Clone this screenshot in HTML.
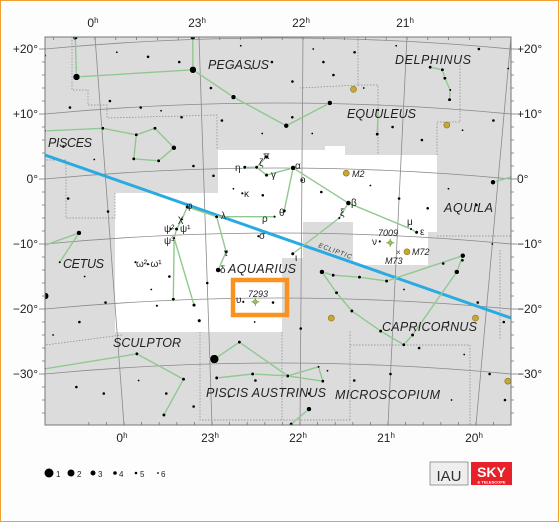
<!DOCTYPE html>
<html><head><meta charset="utf-8">
<style>
html,body{margin:0;padding:0;background:#fff}
svg{display:block}
text{font-family:"Liberation Sans",sans-serif}
.cl{font-style:italic;font-size:12.5px;fill:#222}
.ax{font-size:12px;fill:#222}
.gk{font-size:10px;fill:#222}
</style></head>
<body>
<svg id="chart" width="559" height="522" viewBox="0 0 559 522" xmlns="http://www.w3.org/2000/svg">
<rect x="0.5" y="0.5" width="558" height="521" fill="#fdfdfd" stroke="#f0a030" stroke-width="1"/>
<defs><clipPath id="mapclip"><rect x="45" y="37" width="466" height="388"/></clipPath></defs>
<g clip-path="url(#mapclip)">
<rect x="45" y="37" width="466" height="388" fill="#dcdcdc"/>
<polygon fill="#ffffff" points="218,150 325,150 325,146 345,146 345,155 437,155 437,232 428,232 428,265 353,265 353,222 303,222 303,258 282,258 282,332 115,332 115,193 218,193"/>
<path fill="none" stroke="#888" stroke-width="0.7" stroke-dasharray="1.5,1.5" d="M72,37 L72,90 L88,90 L88,105 L107,105 L107,118 L217,115 L217,150 M115,193 L115,218 L66,218 L66,160 L45,160 M358,37 L358,85 L378,85 L378,155 M358,85 L300,88 M437,155 L437,122 L460,122 L460,60 M437,236 L511,236 M282,332 L282,420 M200,332 L200,420 L350,420 M350,420 L350,345 L470,345 M350,345 L350,330 M470,345 L470,425 M122,335 L45,345 M500,250 L500,340"/>
<g id="grid"></g>
<line id="ecl" x1="45" y1="155" x2="511" y2="318" stroke="#29abe2" stroke-width="3"/>
<g id="lines"></g>
<g id="stars"></g>
</g>
<rect x="45" y="37" width="466" height="388" fill="none" stroke="#777" stroke-width="1"/>
<g id="ticks"></g>
<g id="axlabels"></g>

<g>
<text class="cl" x="208" y="69" textLength="61" lengthAdjust="spacing">PEGASUS</text>
<text class="cl" x="395" y="64" textLength="76" lengthAdjust="spacing">DELPHINUS</text>
<text class="cl" x="347" y="118" textLength="69" lengthAdjust="spacing">EQUULEUS</text>
<text class="cl" x="48" y="147" textLength="44" lengthAdjust="spacing">PISCES</text>
<text class="cl" x="444" y="212" textLength="49" lengthAdjust="spacing">AQUILA</text>
<text class="cl" x="63" y="268" textLength="41" lengthAdjust="spacing">CETUS</text>
<text class="cl" x="228" y="273" textLength="68" lengthAdjust="spacing">AQUARIUS</text>
<text class="cl" x="382" y="331" textLength="95" lengthAdjust="spacing">CAPRICORNUS</text>
<text class="cl" x="113" y="347" textLength="68" lengthAdjust="spacing">SCULPTOR</text>
<text class="cl" x="206" y="397" textLength="120" lengthAdjust="spacing">PISCIS AUSTRINUS</text>
<text class="cl" x="335" y="399" textLength="105" lengthAdjust="spacing">MICROSCOPIUM</text>
<text x="318" y="247" font-size="6.5" font-style="italic" fill="#333" letter-spacing="0.8" transform="rotate(20 318 247)">ECLIPTIC</text>
</g>
<g>
<text class="gk" x="235" y="171">η</text>
<text class="gk" x="259" y="166">ζ</text>
<text class="gk" x="263" y="159">π</text>
<text class="gk" x="271" y="178">γ</text>
<text class="gk" x="295" y="169">α</text>
<text class="gk" x="300" y="183">o</text>
<text class="gk" x="351" y="206">β</text>
<text class="gk" x="407" y="225">μ</text>
<text class="gk" x="420" y="235">ε</text>
<text class="gk" x="340" y="216">ξ</text>
<text class="gk" x="279" y="216">θ</text>
<text class="gk" x="262" y="222">ρ</text>
<text class="gk" x="221" y="219">λ</text>
<text class="gk" x="259" y="239">σ</text>
<text class="gk" x="244" y="197">κ</text>
<text class="gk" x="186" y="209">φ</text>
<text class="gk" x="178" y="222">χ</text>
<text class="gk" x="164" y="232">ψ²</text>
<text class="gk" x="180" y="232">ψ¹</text>
<text class="gk" x="164" y="244">ψ³</text>
<text class="gk" x="224" y="256">τ</text>
<text class="gk" x="220" y="273">δ</text>
<text class="gk" x="136" y="267">ω²·ω¹</text>
<text class="gk" x="295" y="261">ι</text>
<text class="gk" x="236" y="303">υ</text>
<text class="gk" x="372" y="245">ν</text>
<text x="248" y="297" font-size="9" font-style="italic" fill="#222">7293</text>
<text x="378" y="236" font-size="9" font-style="italic" fill="#222">7009</text>
<text x="352" y="177" font-size="9" font-style="italic" fill="#222">M2</text>
<text x="412" y="255" font-size="9" font-style="italic" fill="#222">M72</text>
<text x="385" y="264" font-size="9" font-style="italic" fill="#222">M73</text>
<text x="396" y="255" font-size="8" fill="#444">×</text>
</g>
<rect x="233" y="280" width="54" height="35" fill="none" stroke="#f7931e" stroke-width="4.5"/>

<g>
<circle cx="49" cy="473" r="4.5" fill="#000"/><text x="56" y="477" font-size="8" fill="#222">1</text>
<circle cx="71" cy="473" r="3.5" fill="#000"/><text x="77" y="477" font-size="8" fill="#222">2</text>
<circle cx="93" cy="473" r="2.5" fill="#000"/><text x="98" y="477" font-size="8" fill="#222">3</text>
<circle cx="115" cy="473" r="1.8" fill="#000"/><text x="119" y="477" font-size="8" fill="#222">4</text>
<circle cx="136" cy="473" r="1.3" fill="#000"/><text x="140" y="477" font-size="8" fill="#222">5</text>
<circle cx="158" cy="473" r="0.9" fill="#000"/><text x="161" y="477" font-size="8" fill="#222">6</text>
</g>
<g>
<rect x="430" y="462" width="38" height="23" fill="#eee" stroke="#999" stroke-width="1"/>
<text x="449" y="481" text-anchor="middle" font-family="Liberation Serif" font-size="15" fill="#333">IAU</text>
</g>
<g>
<rect x="471" y="462" width="41" height="23" fill="#e8202a"/>
<text x="491.5" y="477" text-anchor="middle" font-size="14" font-weight="bold" fill="#fff">SKY</text>
<text x="491.5" y="483.5" text-anchor="middle" font-size="4" font-weight="bold" fill="#fff">&amp; TELESCOPE</text>
</g>
</svg>
<script>
// Named stars: hours east of 0h (0h=0, 23h=1, 22h=2 ...), declination (deg), magnitude
const starH   = [-0.21,0.93,1.32,2.27,1.84,-0.19,0.94, 0.01,0.34,0.53,0.71,0.55,0.30,-0.57, 3.24,3.36,3.39,3.45,3.45, 2.75,2.75,
  1.42,1.54,1.64,1.64,1.91,2.00,2.48,3.14,3.20,2.39,1.82,1.72,1.12,1.55,1.39,0.82,0.76,0.70,0.64,0.67,1.21,1.12,0.38,0.25,1.91,0.63,0.85,0.45,0.90,1.38,2.82,
  2.22,2.34,2.62,2.91,3.70,2.38,2.55,2.87,3.13,3.22, 1.05,1.33,1.07,1.47,1.86,2.25,2.20, 2.10,1.90, -0.83,0.20,0.70,0.46, -0.74,-0.32,-0.69,-0.55, 3.95,4.13, 3.65];
const starDec = [15.7,16.8,12.6,11.7,8.2,21.8,21.8, 7.8,6.8,7.8,4.8,2.8,3.1,7.4, 17.2,16.8,15.5,13.7,12.2, 6.9,10.6,
  1.8,1.8,3.4,0.6,1.7,-0.2,-3.7,-7.7,-8.2,-6.0,-4.9,-5.8,-5.8,-8.8,-2.2,-4.3,-6.2,-7.7,-7.7,-9.1,-11.2,-14.0,-13.1,-12.8,-11.5,-18.5,-19.4,-19.5,-21.8,-18.9,-9.6,
  -14.3,-14.8,-15.1,-15.7,-11.8,-17.5,-20.3,-23.4,-25.5,-24.0, -27.7,-25.1,-30.6,-30.0,-30.3,-31.1,-28.9, -35.4,-37.7, -29.2,-26.9,-30.8,-36.3, -18.0,-8.3,-10.2,-12.8, -0.5,0.3, -14.3];
const starMag = [2,2,3,3,3,3,3, 4,4,4,3,4,4,5, 4,4,4,5,4, 4,5,
  4,4,4,4,3,5,3,5,4,5,4,5,4,5,5,4,5,4,5,5,4,3,5,5,4,4,4,5,4,5,5,
  3,4,4,4,3,4,4,4,4,4, 1,4,4,4,4,4,5, 3,4, 5,4,4,4, 2,3,5,5, 3,5, 3];
const figFrom = [5,0,1,1,2,4, 13,7,8,12,11,10,9, 14,15,16,17, 19, 21,22,22,24,25,27,28,25,32,33,36,37,38,40,40,33,41,27,30, 52,53,54,55,52,57,58,59,60,61,81, 62,63,64,65,66,67,68, 69, 71,72,73, 77,76, 79];
const figTo   = [0,1,6,2,4,3, 7,8,12,11,10,9,8, 15,16,17,18, 20, 22,23,24,25,27,28,29,31,33,36,37,38,40,46,47,41,42,30,45, 53,54,55,56,57,58,59,60,61,81,56, 63,66,65,66,67,68,66, 70, 72,73,74, 76,78, 80];
const fieldH   = [-0.5,0.2,0.5,0.8,1.4,1.7,2.1,2.2,2.5,2.9,3.7,4.0,4.2,3.9,3.6,3.2,2.9,2.6,2.3,1.9,1.5,1.1,0.4,0.6,0.8,1.2,1.6,1.9,2.1,0.1,-0.3,-0.6,-0.4,-0.1,0.9,1.1,1.3,1.6,2.2,2.7,3.0,3.3,3.5,3.8,4.2,4.0,3.7,3.5,3.1,3.9,4.2,3.6,3.3,3.0,2.6,2.3,2.1,1.5,1.2,0.8,0.5,0.2,-0.2,-0.5,-0.7,-0.4,-0.1,-0.3,0.0,-0.4,0.4,0.6,1.0,1.5,1.7,2.0,3.8,4.1,4.3,3.7];
const fieldDec = [19,19.5,18.8,18,20.5,18,20,18,19.5,20.5,20,17,14,9,7.5,6,8,14,16,15,17,14,11,10.5,9.5,9,7,9.5,7,12,11,13,5,3,2,0.5,-1.5,-2.5,-2,-1,-3,-4.5,-1.5,-4,-6,-10,-12.5,-13,-17,-19,-22,-22,-26,-30,-31,-29.5,-33,-31,-33.5,-35,-33,-31,-33,-32,-24,-22,-19,-15,-5,-3,-17,-15,-16,-22,-19,-23,-27,-30,-34,-34];
const fieldMag = [5,6,5,5,6,5,6,5,5,6,5,6,5,5,6,5,5,6,5,5,6,5,5,6,5,5,6,5,6,5,5,6,5,6,5,5,6,5,5,6,5,5,6,5,5,6,5,5,6,5,5,6,5,5,5,6,5,5,6,5,5,6,5,5,6,5,5,6,5,5,6,5,5,6,5,5,6,5,5,6];
const clH = [2.45,2.50,3.44,2.33,3.89,4.31,3.11];
const clDec = [0.9,13.8,8.3,-21.4,-21.4,-31.1,-11.2];
const pnH = [1.51,2.93];
const pnDec = [-18.9,-9.8];
const raTicks = ["0","23","22","21","20"];
const decTicks = [20,10,0,-10,-20,-30];

const NS="http://www.w3.org/2000/svg";
function yOf(dec){return 179-6.5*dec;}
function xOf(h,dec){const y=yOf(dec);const t=(y-37)/388;return 95+29*t+(104-16*t)*h;}
function mk(tag,attrs,parent){const e=document.createElementNS(NS,tag);for(const k in attrs)e.setAttribute(k,attrs[k]);parent.appendChild(e);return e;}
const rOf=[0,4.5,3.5,2.5,1.8,1.3,0.9];

const grid=document.getElementById('grid');
for(let i=-1;i<=5;i++){
  const l=mk('line',{x1:95+104*i,y1:37,x2:124+88*i,y2:425,stroke:'#8a8a8a','stroke-width':0.8},grid);
  
  
}
for(let d=30;d>=-40;d-=10){
  const ye=yOf(d);const p=mk('path',{d:'M45,'+ye+' Q278,'+(ye-22)+' 511,'+ye,fill:'none',stroke:'#8a8a8a','stroke-width':0.8},grid);
  
  
}
const lines=document.getElementById('lines');
for(let i=0;i<figFrom.length;i++){
  const a=figFrom[i],b=figTo[i];
  const l=mk('line',{x1:xOf(starH[a],starDec[a]),y1:yOf(starDec[a]),x2:xOf(starH[b],starDec[b]),y2:yOf(starDec[b]),stroke:'#8fc98f','stroke-width':1.4},lines);
  
  
}
const stars=document.getElementById('stars');
for(let i=0;i<fieldH.length;i++){
  const c=mk('circle',{cx:xOf(fieldH[i],fieldDec[i]),cy:yOf(fieldDec[i]),r:rOf[fieldMag[i]],fill:'#000'},stars);
  
  
}
for(let i=0;i<starH.length;i++){
  const c=mk('circle',{cx:xOf(starH[i],starDec[i]),cy:yOf(starDec[i]),r:rOf[starMag[i]],fill:'#000',stroke:'#fff','stroke-width':0.5},stars);
  
  
}
for(let i=0;i<clH.length;i++){
  const c=mk('circle',{cx:xOf(clH[i],clDec[i]),cy:yOf(clDec[i]),r:3,fill:'#c8a830',stroke:'#8a7020','stroke-width':0.6},stars);
  
  
}
for(let i=0;i<pnH.length;i++){
  const x=xOf(pnH[i],pnDec[i]),y=yOf(pnDec[i]);
  const c=mk('path',{d:'M'+(x-4)+','+y+' H'+(x+4)+' M'+x+','+(y-4)+' V'+(y+4),stroke:'#7aa040','stroke-width':1},stars);
  
  
  const c2=mk('circle',{cx:x,cy:y,r:2,fill:'#9bc060',stroke:'#6a9030','stroke-width':0.5},stars);
  
  
}
const ticks=document.getElementById('ticks');
for(let d=22;d>=-38;d-=2){
  const y=yOf(d);if(y<38||y>424)continue;const len=(d%10===0)?6:3;
  const t1=mk('line',{x1:45,y1:y,x2:45-len,y2:y,stroke:'#777','stroke-width':0.8},ticks);
  
  
  const t2=mk('line',{x1:511,y1:y,x2:511+len,y2:y,stroke:'#777','stroke-width':0.8},ticks);
  
  
}
for(let i=-2;i<=22;i++){
  const h=i/5;const xt=95+104*h,xb=124+88*h;
  if(xt>46&&xt<510){const t=mk('line',{x1:xt,y1:37,x2:xt,y2:40,stroke:'#777','stroke-width':0.8},ticks);
  
  }
  if(xb>46&&xb<510){const t=mk('line',{x1:xb,y1:425,x2:xb,y2:422,stroke:'#777','stroke-width':0.8},ticks);
  
  }
}
const ax=document.getElementById('axlabels');
raTicks.forEach(function(lab,i){
  const xt=95+104*i,xb=124+88*i;
  if(i<4){const t=mk('text',{x:xt-2,y:27,'text-anchor':'middle',class:'ax'},ax);
  
  
  t.textContent=lab;
  const s=mk('tspan',{'font-size':8,dy:-4},t);s.textContent='h';}
  const b=mk('text',{x:xb-2,y:442,'text-anchor':'middle',class:'ax'},ax);
  
  
  b.textContent=lab;
  const s2=mk('tspan',{'font-size':8,dy:-4},b);s2.textContent='h';
});
decTicks.forEach(function(d){
  const y=yOf(d)+4;const s=(d>0?'+':(d<0?'\u2212':''))+Math.abs(d)+'°';
  const l=mk('text',{x:38,y:y,'text-anchor':'end',class:'ax'},ax);
  
  
  l.textContent=s;
  const r=mk('text',{x:517,y:y,class:'ax'},ax);
  
  
  r.textContent=s;
});
</script>
</body></html>
